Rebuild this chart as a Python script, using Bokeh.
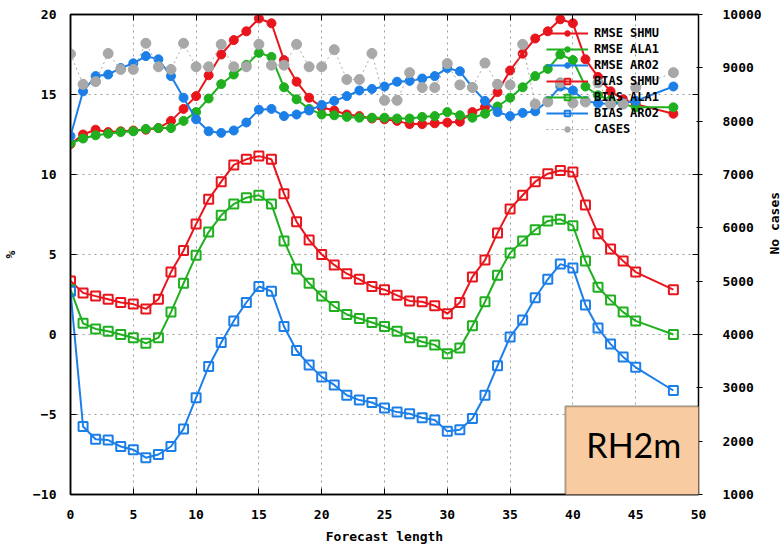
import math
from bokeh.plotting import figure
from bokeh.models import (Range1d, LinearAxis, SingleIntervalTicker, Legend, LegendItem,
                          BoxAnnotation, Label)
from bokeh.embed import file_html
from bokeh.resources import INLINE

# ---------------- data ----------------
hours = list(range(46)) + [48]

rmse_shmu = [11.9, 12.5, 12.8, 12.65, 12.7, 12.75, 12.8, 12.9, 13.35, 14.1,
             14.9, 16.2, 17.5, 18.4, 18.95, 19.75, 19.45, 17.15, 15.8, 14.8,
             14.2, 14.0, 13.75, 13.65, 13.5, 13.45, 13.35, 13.15, 13.15, 13.2,
             13.25, 13.3, 13.9, 14.2, 15.15, 16.5, 17.55, 18.5, 18.95, 19.7,
             19.45, 17.2, 16.1, 15.2, 14.7, 14.4, 13.8]
rmse_ala1 = [11.95, 12.25, 12.45, 12.55, 12.65, 12.7, 12.85, 12.9, 12.9, 13.35,
             13.9, 14.75, 15.65, 16.25, 16.85, 17.6, 17.35, 15.45, 14.7, 14.1,
             13.75, 13.7, 13.6, 13.55, 13.55, 13.55, 13.5, 13.5, 13.6, 13.65,
             13.9, 13.7, 13.55, 13.8, 14.25, 14.8, 15.45, 16.15, 16.6, 17.5,
             17.15, 15.5, 14.95, 14.65, 14.4, 14.2, 14.2]
rmse_aro2 = [12.4, 15.2, 16.15, 16.25, 16.65, 16.95, 17.4, 17.2, 16.15, 14.8,
             13.45, 12.7, 12.6, 12.75, 13.25, 14.05, 14.1, 13.65, 13.75, 14.0,
             14.35, 14.6, 14.9, 15.25, 15.35, 15.5, 15.8, 15.85, 16.0, 16.15,
             16.65, 16.45, 15.45, 14.6, 13.9, 13.65, 13.85, 13.95, 14.6, 15.5,
             15.25, 14.6, 14.45, 14.4, 14.45, 14.6, 15.5]
bias_shmu = [3.35, 2.6, 2.4, 2.2, 2.0, 1.9, 1.6, 2.2, 3.9, 5.25,
             6.9, 8.45, 9.55, 10.6, 10.95, 11.15, 10.95, 8.8, 7.05, 5.9,
             5.0, 4.35, 3.8, 3.45, 3.0, 2.8, 2.45, 2.1, 2.05, 1.8,
             1.3, 2.0, 3.6, 4.65, 6.35, 7.85, 8.7, 9.55, 10.05, 10.25,
             10.15, 8.1, 6.3, 5.35, 4.6, 3.9, 2.8]
bias_ala1 = [2.8, 0.7, 0.35, 0.2, 0.0, -0.2, -0.55, -0.2, 1.4, 3.2,
             4.95, 6.4, 7.45, 8.15, 8.55, 8.7, 8.15, 5.85, 4.1, 3.2,
             2.4, 1.75, 1.25, 1.0, 0.75, 0.5, 0.2, -0.2, -0.45, -0.65,
             -1.2, -0.85, 0.55, 2.05, 3.7, 5.1, 5.85, 6.55, 7.1, 7.2,
             6.8, 4.6, 2.95, 2.15, 1.4, 0.85, 0.0]
bias_aro2 = [2.7, -5.75, -6.55, -6.6, -7.0, -7.2, -7.7, -7.5, -7.0, -5.9,
             -3.95, -2.0, -0.5, 0.85, 2.0, 3.0, 2.7, 0.5, -1.0, -1.9,
             -2.65, -3.15, -3.8, -4.1, -4.25, -4.6, -4.85, -4.95, -5.2, -5.35,
             -6.05, -5.95, -5.25, -3.8, -1.95, -0.15, 0.9, 2.3, 3.45, 4.4,
             4.15, 1.85, 0.4, -0.6, -1.4, -2.05, -3.5]
cases = [9260, 8690, 8740, 9270, 8970, 8970, 9460, 9020, 8970, 9460,
         9020, 9020, 9440, 9020, 9020, 9440, 9050, 9050, 9440, 9020,
         9020, 9340, 8780, 8780, 9270, 8390, 8390, 8910, 8630, 8630,
         9080, 8680, 8630, 9090, 8690, 8680, 9440, 8320, 8360, 8720,
         8340, 8360, 8720, 8320, 8320, 8630, 8910]

series_names = ["RMSE SHMU", "RMSE ALA1", "RMSE ARO2", "BIAS SHMU", "BIAS ALA1", "BIAS ARO2"]
cases_name = "CASES"
x_label = "Forecast length"
y_label = "%"
y2_label = "No cases"
box_text = "RH2m"

# ---------------- style ----------------
RED = "#e8161c"
GREEN = "#1faf1f"
BLUE = "#1c7fe8"
GRAY = "#a8a8a8"
MONO = "DejaVu Sans Mono"

p = figure(frame_width=628, frame_height=480,
           x_range=Range1d(0, 50), y_range=Range1d(-10, 20),
           output_backend="svg", toolbar_location=None,
           min_border_left=67, min_border_right=87,
           min_border_top=14, min_border_bottom=50,
           background_fill_color="white", border_fill_color="white")
p.extra_y_ranges = {"cases": Range1d(1000, 10000)}

p.outline_line_color = "black"
p.outline_line_width = 1.5
p.outline_line_alpha = 1

for g in (p.xgrid, p.ygrid):
    g.grid_line_color = "#9a9a9a"
    g.grid_line_dash = "2 4"
    g.grid_line_width = 1

def style_axis(ax, standoff):
    ax.major_tick_in = 6
    ax.major_tick_out = 0
    ax.minor_tick_line_color = None
    ax.axis_line_color = "black"
    ax.axis_line_width = 1.5
    ax.major_tick_line_color = "black"
    ax.major_tick_line_width = 1
    ax.major_label_text_font = MONO
    ax.major_label_text_font_style = "bold"
    ax.major_label_text_font_size = "13px"
    ax.major_label_text_color = "black"
    ax.major_label_standoff = standoff
    ax.axis_label_text_font = MONO
    ax.axis_label_text_font_style = "bold"
    ax.axis_label_text_font_size = "13px"
    ax.axis_label_text_color = "black"

p.xaxis.ticker = SingleIntervalTicker(interval=5)
p.yaxis.ticker = SingleIntervalTicker(interval=5)
style_axis(p.xaxis[0], 11)
style_axis(p.yaxis[0], 10)
p.xaxis.axis_label = x_label
p.xaxis.axis_label_standoff = 7
p.yaxis.axis_label = y_label
p.yaxis.axis_label_standoff = 12

# mirrored left-axis ticks on the right border (no labels), closest to the frame
y1r = LinearAxis(ticker=SingleIntervalTicker(interval=5))
style_axis(y1r, 0)
y1r.major_label_text_font_size = "1px"
y1r.major_label_text_color = None
y1r.axis_line_color = None
p.add_layout(y1r, "right")

y2 = LinearAxis(y_range_name="cases", ticker=SingleIntervalTicker(interval=1000),
                axis_label=y2_label)
style_axis(y2, 16)
y2.axis_line_color = None
y2.axis_label_standoff = 10
try:
    y2.axis_label_orientation = math.pi / 2
except AttributeError:
    pass
p.add_layout(y2, "right")

top = LinearAxis(ticker=SingleIntervalTicker(interval=5))
style_axis(top, 0)
top.major_label_text_font_size = "1px"
top.major_label_text_color = None
p.add_layout(top, "above")

# ---------------- glyphs ----------------
items = []
colors = [RED, GREEN, BLUE, RED, GREEN, BLUE]
datasets = [rmse_shmu, rmse_ala1, rmse_aro2, bias_shmu, bias_ala1, bias_aro2]

for name, col, ys in zip(series_names, colors, datasets):
    lr = p.line(hours, ys, line_color=col, line_width=2)
    if name.startswith("RMSE"):
        sr = p.scatter(hours, ys, marker="circle", size=9, fill_color=col,
                       line_color=col, line_width=1)
    else:
        sr = p.scatter(hours, ys, marker="square", size=9, fill_color=None,
                       line_color=col, line_width=2)
    items.append(LegendItem(label=name, renderers=[lr, sr]))

cl = p.line(hours, cases, y_range_name="cases", line_color=GRAY, line_width=1,
            line_dash="2 3")
cs = p.scatter(hours, cases, y_range_name="cases", marker="circle", size=10,
               fill_color=GRAY, line_color=GRAY)
items.append(LegendItem(label=cases_name, renderers=[cl, cs]))

legend = Legend(items=items, location=(474, 356),
                background_fill_alpha=0, border_line_alpha=0,
                label_text_font=MONO, label_text_font_style="bold",
                label_text_font_size="12px", label_text_color="black",
                glyph_width=42, glyph_height=14, label_height=14,
                spacing=2, padding=2, margin=0, label_standoff=6)
p.add_layout(legend)

# ---------------- overlay box ----------------
box = BoxAnnotation(left=39.4, right=50.3, bottom=-10.05, top=-4.48,
                    fill_color="#f8cba0", fill_alpha=1,
                    line_color="black", line_width=2, level="overlay")
p.add_layout(box)
lab = Label(x=44.85, y=-6.9, text=box_text, text_align="center",
            text_baseline="middle", text_font="Lato", text_font_size="34px",
            text_color="black", level="overlay")
p.add_layout(lab)

open("out.html", "w").write(file_html(p, INLINE))
